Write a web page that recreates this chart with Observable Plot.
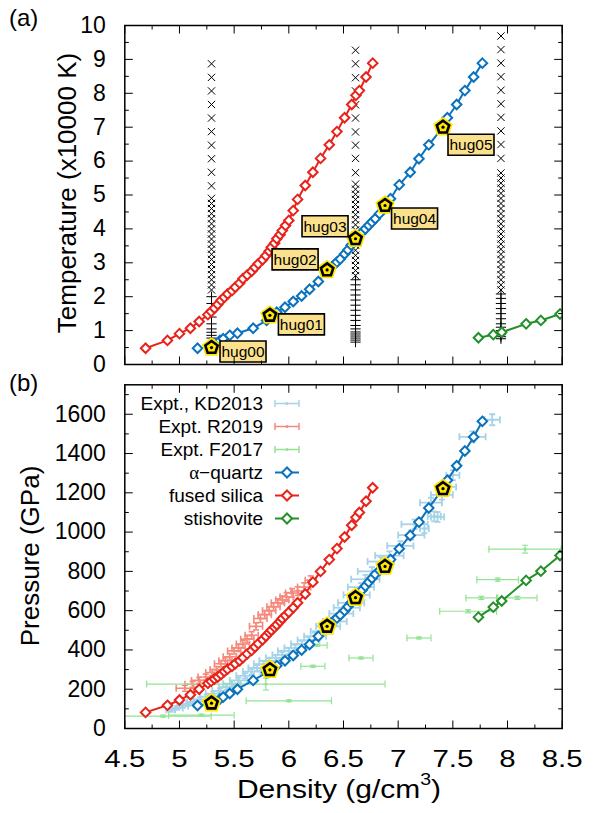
<!DOCTYPE html>
<html><head><meta charset="utf-8">
<script src="https://cdn.jsdelivr.net/npm/d3@7"></script>
<script src="https://cdn.jsdelivr.net/npm/@observablehq/plot@0.6"></script>
<style>
body{margin:0;background:#fff;}
#wrap{position:relative;width:596px;height:813px;overflow:hidden;font-family:"Liberation Sans",Arial,Helvetica,sans-serif;color:#000;}
#wrap > svg{position:absolute;left:0;}
.lab{position:absolute;white-space:nowrap;line-height:1;}
</style></head><body><div id="wrap"></div>
<script>
// ---------- axis ticks ----------
const xTicks = [4.5, 5, 5.5, 6, 6.5, 7, 7.5, 8, 8.5];
const xTickLabels = ["4.5", "5", "5.5", "6", "6.5", "7", "7.5", "8", "8.5"];
const xMinor = [4.75, 5.25, 5.75, 6.25, 6.75, 7.25, 7.75, 8.25];
const tTicks = [0, 1, 2, 3, 4, 5, 6, 7, 8, 9, 10];
const tMinor = [0.5, 1.5, 2.5, 3.5, 4.5, 5.5, 6.5, 7.5, 8.5, 9.5];
const pTicks = [0, 200, 400, 600, 800, 1000, 1200, 1400, 1600];
const pMinor = [100, 300, 500, 700, 900, 1100, 1300, 1500, 1700];

// ---------- simulations ----------
const fsDensity = [4.69, 4.89, 5.00, 5.10, 5.18, 5.26, 5.29, 5.32, 5.35, 5.38, 5.41, 5.44, 5.48, 5.51, 5.55, 5.58, 5.62, 5.66, 5.69, 5.72, 5.76, 5.79, 5.82, 5.84, 5.87, 5.89, 5.92, 5.94, 5.97, 6.00, 6.04, 6.08, 6.15, 6.22, 6.29, 6.37, 6.44, 6.51, 6.575, 6.614, 6.645, 6.706, 6.767];
const fsTemp =    [0.48, 0.71, 0.91, 1.07, 1.27, 1.47, 1.56, 1.66, 1.77, 1.89, 1.98, 2.08, 2.18, 2.28, 2.40, 2.53, 2.64, 2.75, 2.86, 2.97, 3.09, 3.21, 3.34, 3.46, 3.58, 3.71, 3.83, 3.95, 4.10, 4.25, 4.54, 4.87, 5.28, 5.67, 6.08, 6.48, 6.87, 7.28, 7.67, 7.94, 8.08, 8.48, 8.89];
const fsPressure = [82, 118, 145, 172, 200, 230, 240, 252, 262, 275, 290, 302, 316, 330, 345, 360, 380, 398, 415, 432, 452, 470, 488, 500, 515, 528, 545, 560, 575, 592, 615, 640, 685, 745, 800, 860, 916, 975, 1035, 1075, 1100, 1157, 1226];

const aqDensity = [5.165, 5.293, 5.37, 5.40, 5.46, 5.53, 5.674, 5.797, 5.827, 5.89, 5.965, 6.04, 6.117, 6.19, 6.27, 6.35, 6.38, 6.41, 6.44, 6.47, 6.51, 6.54, 6.57, 6.61, 6.64, 6.67, 6.70, 6.73, 6.76, 6.79, 6.83, 6.88, 6.93, 7.01, 7.11, 7.19, 7.28, 7.41, 7.45, 7.535, 7.61, 7.69, 7.77];
const aqTemp =    [0.48, 0.50, 0.71, 0.76, 0.86, 0.92, 1.07, 1.30, 1.45, 1.54, 1.69, 1.86, 2.02, 2.22, 2.45, 2.76, 2.85, 2.93, 3.02, 3.11, 3.26, 3.38, 3.52, 3.71, 3.80, 3.90, 4.00, 4.10, 4.20, 4.30, 4.45, 4.69, 4.89, 5.30, 5.67, 6.07, 6.48, 7.00, 7.28, 7.67, 8.08, 8.48, 8.89];
const aqPressure = [117, 129, 150, 160, 178, 200, 245, 285, 299, 320, 345, 372, 400, 428, 470, 520, 535, 548, 562, 578, 600, 620, 640, 666, 686, 705, 725, 745, 765, 785, 805, 825, 860, 915, 983, 1051, 1123, 1221, 1264, 1338, 1413, 1484, 1564];

const stDensity = [7.734, 7.87, 7.947, 8.17, 8.305, 8.48];
const stTemp =    [0.79, 0.88, 0.95, 1.20, 1.30, 1.49];
const stPressure = [567, 618, 649, 754, 801, 881];

// highlighted Hugoniot states
const hugNames = ["hug00", "hug01", "hug02", "hug03", "hug04", "hug05"];
const hugDensity = [5.293, 5.827, 6.35, 6.61, 6.88, 7.41];
const hugTemp = [0.50, 1.45, 2.79, 3.71, 4.69, 7.00];
const hugPressure = [129, 299, 520, 666, 825, 1221];

// fixed-density sampling columns (top panel)
const colDensity = [5.293, 6.61, 7.94];
const colPlusTemp = [
  [0.78, 0.86, 0.95, 1.05, 1.2, 1.4, 1.6, 1.8, 2.0],
  [0.66, 0.72, 0.78, 0.84, 0.9, 0.96, 1.05, 1.15, 1.3, 1.45, 1.6, 1.75, 1.9, 2.05, 2.2, 2.35, 2.5],
  [0.76, 0.82, 0.88, 0.94, 1.0, 1.1, 1.2, 1.35, 1.5, 1.65, 1.8, 1.95, 2.08]
];
const colCrossTemp = [
  [2.2, 2.35, 2.5, 2.65, 2.8, 2.95, 3.1, 3.25, 3.4, 3.55, 3.7, 3.85, 4.0, 4.15, 4.3, 4.45, 4.6, 4.75, 4.9, 5.27, 5.67, 6.07, 6.47, 6.87, 7.27, 7.67, 8.07, 8.47, 8.87],
  [2.62, 2.77, 2.92, 3.07, 3.22, 3.37, 3.52, 3.67, 3.82, 3.97, 4.12, 4.27, 4.42, 4.57, 4.72, 4.87, 5.02, 5.17, 5.32, 5.66, 6.08, 6.47, 6.86, 7.27, 7.66, 8.07, 8.46, 8.87, 9.27],
  [2.2, 2.35, 2.5, 2.65, 2.8, 2.95, 3.1, 3.25, 3.4, 3.55, 3.7, 3.85, 4.0, 4.15, 4.3, 4.45, 4.6, 4.75, 4.9, 5.05, 5.2, 5.35, 5.5, 5.65, 6.08, 6.49, 6.89, 7.29, 7.69, 8.09, 8.49, 8.89, 9.29, 9.69]
];

// ---------- experiments ----------
const kdDensity = [4.92, 4.98, 5.03, 5.08, 5.13, 5.19, 5.25, 5.31, 5.37, 5.43, 5.48, 5.54, 5.60, 5.66, 5.71, 5.77, 5.82, 5.88, 5.94, 6.00, 6.06, 6.12, 6.18, 6.24, 6.30, 6.36, 6.42, 6.48, 6.53, 6.57, 6.62, 6.66, 6.70, 6.76, 6.84, 6.92, 7.02, 7.12, 7.15, 7.24, 7.33, 7.36, 7.30, 7.40, 7.45, 7.50, 7.68, 7.86];
const kdPressure = [95, 105, 115, 125, 135, 148, 162, 178, 192, 210, 228, 245, 268, 290, 308, 328, 345, 360, 375, 395, 410, 430, 450, 470, 495, 520, 545, 585, 615, 640, 680, 720, 760, 800, 850, 880, 930, 985, 1040, 1018, 1080, 1077, 1150, 1190, 1230, 1290, 1485, 1572];
const kdDensityErr = [0.04, 0.05, 0.05, 0.05, 0.06, 0.06, 0.06, 0.07, 0.07, 0.07, 0.08, 0.08, 0.08, 0.08, 0.08, 0.09, 0.09, 0.09, 0.09, 0.10, 0.10, 0.10, 0.10, 0.10, 0.10, 0.11, 0.11, 0.11, 0.12, 0.12, 0.12, 0.12, 0.13, 0.13, 0.12, 0.13, 0.12, 0.12, 0.12, 0.04, 0.06, 0.06, 0.10, 0.10, 0.08, 0.06, 0.12, 0.07];
const kdPressureErr = [10, 10, 10, 10, 12, 12, 12, 12, 12, 14, 14, 14, 14, 14, 15, 15, 15, 15, 15, 16, 16, 16, 16, 18, 18, 18, 18, 20, 20, 20, 20, 20, 22, 22, 22, 22, 24, 24, 24, 24, 25, 25, 25, 25, 26, 26, 28, 28];

const rDensity = [5.05, 5.12, 5.18, 5.24, 5.30, 5.34, 5.38, 5.42, 5.46, 5.50, 5.54, 5.58, 5.62, 5.66, 5.70, 5.74, 5.78, 5.82, 5.86, 5.90, 5.94, 5.98, 6.03, 6.08, 6.14, 6.20];
const rPressure = [205, 225, 245, 262, 285, 300, 330, 345, 365, 395, 410, 430, 455, 475, 520, 560, 580, 600, 620, 640, 655, 670, 690, 700, 720, 755];
const rDensityErr = [0.08, 0.07, 0.07, 0.07, 0.06, 0.06, 0.06, 0.06, 0.06, 0.06, 0.06, 0.06, 0.06, 0.06, 0.06, 0.06, 0.06, 0.06, 0.06, 0.06, 0.06, 0.06, 0.06, 0.06, 0.06, 0.05];
const rPressureErr = [15, 15, 15, 15, 15, 15, 16, 16, 16, 16, 18, 18, 18, 18, 18, 20, 20, 20, 20, 20, 20, 22, 22, 22, 22, 22];

const fDensity = [4.85, 5.2, 5.79, 6.0, 6.22, 6.26, 6.66, 7.19, 7.64, 7.76, 8.09, 7.91, 8.16];
const fPressure = [63, 68, 226, 141, 317, 424, 359, 461, 597, 665, 665, 758, 913];
const fDensityErr = [0.44, 0.3, 1.09, 0.39, 0.11, 0.09, 0.11, 0.11, 0.26, 0.14, 0.18, 0.19, 0.33];
const fPressureErr = [5, 5, 30, 5, 5, 5, 5, 5, 8, 8, 8, 8, 20];

// ---------- legend ----------
const legendLabels = ["Expt., KD2013", "Expt. R2019", "Expt. F2017", "α−quartz", "fused silica", "stishovite"];
const legendKinds = ["err", "err", "err", "line", "line", "line"];

// ---------- styling ----------
const RED = "#e8231b", BLUE = "#0b73bd", GREEN = "#23902a";
const LBLUE = "#a6d3e7", LRED = "#f58a7c", LGREEN = "#93e393";
const legendColors = [LBLUE, LRED, LGREEN, BLUE, RED, GREEN];
const FONT = '"Liberation Sans", Arial, Helvetica, sans-serif';

const rows = (ds, ts, ps) => ds.map((d, i) => ({d, t: ts ? ts[i] : null, p: ps ? ps[i] : null}));
const fs = rows(fsDensity, fsTemp, fsPressure);
const aq = rows(aqDensity, aqTemp, aqPressure);
const st = rows(stDensity, stTemp, stPressure);
const hug = hugNames.map((n, i) => ({n, d: hugDensity[i], t: hugTemp[i], p: hugPressure[i]}));
const errRows = (ds, ps, dx, dp) => ds.map((d, i) => ({d, p: ps[i], dx: dx[i], dp: dp[i]}));
const kd = errRows(kdDensity, kdPressure, kdDensityErr, kdPressureErr);
const rr = errRows(rDensity, rPressure, rDensityErr, rPressureErr);
const ff = errRows(fDensity, fPressure, fDensityErr, fPressureErr);

const seg = (x1, y1, x2, y2) => ({draw(c) { c.moveTo(x1, y1); c.lineTo(x2, y2); }});
const pentagon = {draw(c, size) {
  const r = Math.sqrt(size / Math.PI);
  for (let k = 0; k < 5; k++) {
    const a = -Math.PI / 2 + k * 2 * Math.PI / 5;
    const x = r * Math.cos(a), y = r * Math.sin(a);
    k ? c.lineTo(x, y) : c.moveTo(x, y);
  }
  c.closePath();
}};
const labelBox = {draw(c) { c.rect(-23, -10.5, 46, 21); }};

function frameTicks(yMajor, yMinor) {
  const o = {stroke: "black", fill: "none", strokeWidth: 1};
  return [
    Plot.dot(yMajor, {...o, y: d => d, frameAnchor: "left", symbol: seg(0, 0, 8, 0)}),
    Plot.dot(yMajor, {...o, y: d => d, frameAnchor: "right", symbol: seg(0, 0, -8, 0)}),
    Plot.dot(yMinor, {...o, y: d => d, frameAnchor: "left", symbol: seg(0, 0, 4, 0)}),
    Plot.dot(yMinor, {...o, y: d => d, frameAnchor: "right", symbol: seg(0, 0, -4, 0)}),
    Plot.dot(xTicks, {...o, x: d => d, frameAnchor: "bottom", symbol: seg(0, 0, 0, -8)}),
    Plot.dot(xTicks, {...o, x: d => d, frameAnchor: "top", symbol: seg(0, 0, 0, 8)}),
    Plot.dot(xMinor, {...o, x: d => d, frameAnchor: "bottom", symbol: seg(0, 0, 0, -4)}),
    Plot.dot(xMinor, {...o, x: d => d, frameAnchor: "top", symbol: seg(0, 0, 0, 4)}),
    Plot.frame({stroke: "black", strokeWidth: 1.5})
  ];
}

function curve(data, yKey, color) {
  return [
    Plot.line(data, {x: "d", y: yKey, stroke: color, strokeWidth: 2, clip: true}),
    Plot.dot(data, {x: "d", y: yKey, symbol: "diamond2", r: 4.3, stroke: color, strokeWidth: 2, fill: "white", clip: true})
  ];
}

function hugMarks(yKey) {
  return [
    Plot.dot(hug, {x: "d", y: yKey, symbol: pentagon, r: 6.5, fill: "#ffe600", stroke: "#ffe600", strokeWidth: 6}),
    Plot.dot(hug, {x: "d", y: yKey, symbol: pentagon, r: 6.5, fill: "#ffe600", stroke: "black", strokeWidth: 2.6}),
    Plot.dot(hug, {x: "d", y: yKey, r: 1.6, fill: "black"})
  ];
}

function errorBars(data, color, w) {
  const o = {stroke: color, strokeWidth: w, fill: "none", clip: true};
  return [
    Plot.ruleY(data, {...o, y: "p", x1: r => r.d - r.dx, x2: r => r.d + r.dx}),
    Plot.ruleX(data, {...o, x: "d", y1: r => r.p - r.dp, y2: r => r.p + r.dp}),
    Plot.dot(data, {...o, x: r => r.d - r.dx, y: "p", symbol: seg(0, -3.5, 0, 3.5)}),
    Plot.dot(data, {...o, x: r => r.d + r.dx, y: "p", symbol: seg(0, -3.5, 0, 3.5)}),
    Plot.dot(data, {...o, x: "d", y: r => r.p - r.dp, symbol: seg(-3, 0, 3, 0)}),
    Plot.dot(data, {...o, x: "d", y: r => r.p + r.dp, symbol: seg(-3, 0, 3, 0)}),
    Plot.dot(data, {x: "d", y: "p", r: 1.6, fill: color, clip: true})
  ];
}

// label offsets (pixels) for the hug boxes
const labelDx = [31.5, 31.5, -32, -30.5, 29.5, 28];
const labelDy = [4, 9, -10.5, -12.5, 13, 17.6];
const hugLabels = hug.flatMap((h, i) => [
  Plot.dot([h], {x: "d", y: "t", dx: labelDx[i], dy: labelDy[i], symbol: labelBox, fill: "#fbe18c", stroke: "black", strokeWidth: 1.6}),
  Plot.text([h], {x: "d", y: "t", text: "n", dx: labelDx[i], dy: labelDy[i] + 0.5, fontSize: 15.5, fill: "black"})
]);

const colMarks = colDensity.flatMap((d, j) => [
  Plot.dot(colPlusTemp[j], {x: () => d, y: t => t, symbol: "plus", r: 3.4, stroke: "black", strokeWidth: 1}),
  Plot.dot(colCrossTemp[j], {x: () => d, y: t => t, symbol: "times", r: 3.4, stroke: "black", strokeWidth: 1})
]);

const wrap = document.getElementById("wrap");

const topPlot = Plot.plot({
  width: 596, height: 380,
  marginLeft: 124.3, marginRight: 34.3, marginTop: 25, marginBottom: 16,
  style: {fontFamily: FONT, background: "transparent", overflow: "visible"},
  x: {domain: [4.5, 8.5], axis: null},
  y: {domain: [0, 10]},
  marks: [
    Plot.axisY({ticks: tTicks, tickFormat: d => String(d), tickSize: 0, tickPadding: 19, fontSize: 23, label: null}),
    ...colMarks,
    ...curve(fs, "t", RED),
    ...curve(aq, "t", BLUE),
    ...curve(st, "t", GREEN),
    ...hugMarks("t"),
    ...hugLabels,
    ...frameTicks(tTicks, tMinor)
  ]
});
topPlot.style.top = "0px";
wrap.appendChild(topPlot);

const bottomPlot = Plot.plot({
  width: 596, height: 443,
  marginLeft: 124.3, marginRight: 34.3, marginTop: 14.3, marginBottom: 85,
  style: {fontFamily: FONT, background: "transparent", overflow: "visible"},
  x: {domain: [4.5, 8.5]},
  y: {domain: [0, 1750]},
  marks: [
    Plot.axisY({ticks: pTicks, tickFormat: d => String(d), tickSize: 0, tickPadding: 19, fontSize: 23, label: null}),
    Plot.axisX({ticks: xTicks, tickFormat: (d, i) => xTickLabels[i], tickSize: 0, tickPadding: 22, fontSize: 23, label: null}),
    ...errorBars(kd, LBLUE, 1.8),
    ...errorBars(rr, LRED, 1.6),
    ...errorBars(ff, LGREEN, 1.2),
    ...curve(fs, "p", RED),
    ...curve(aq, "p", BLUE),
    ...curve(st, "p", GREEN),
    ...hugMarks("p"),
    ...frameTicks(pTicks, pMinor)
  ]
});
bottomPlot.style.top = "370px";
wrap.appendChild(bottomPlot);

// widen the density tick labels horizontally, as in the reference typesetting
bottomPlot.querySelectorAll('g[aria-label="x-axis tick label"] text').forEach(t => {
  const tr = t.getAttribute("transform");
  if (tr && tr.includes("translate")) {
    t.setAttribute("transform", tr + " scale(1.28,1)");
  } else {
    const x = +t.getAttribute("x") || 0, y = +t.getAttribute("y") || 0;
    t.removeAttribute("x"); t.removeAttribute("y");
    t.setAttribute("transform", `translate(${x},${y}) scale(1.28,1)`);
  }
});

// ---------- legend (overlay) ----------
const leg = d3.select(wrap).append("svg").attr("width", 596).attr("height", 813)
  .style("position", "absolute").style("left", "0px").style("top", "0px");
legendLabels.forEach((lab, i) => {
  const y = 403.5 + i * 23;
  const g = leg.append("g").attr("transform", `translate(0,${y})`);
  const t = g.append("text").attr("x", 263).attr("y", 0).attr("dy", "0.35em")
    .attr("text-anchor", "end").attr("font-family", FONT).attr("font-size", 19);
  if (lab.startsWith("α")) {
    t.append("tspan").attr("font-family", '"Liberation Serif", "DejaVu Serif", serif').text("α");
    t.append("tspan").text(lab.slice(1));
  } else t.text(lab);
  const c = legendColors[i];
  if (legendKinds[i] === "err") {
    g.append("line").attr("x1", 275).attr("x2", 299).attr("y1", 0).attr("y2", 0).attr("stroke", c).attr("stroke-width", 1.5);
    g.append("line").attr("x1", 275).attr("x2", 275).attr("y1", -3.5).attr("y2", 3.5).attr("stroke", c).attr("stroke-width", 1.5);
    g.append("line").attr("x1", 299).attr("x2", 299).attr("y1", -3.5).attr("y2", 3.5).attr("stroke", c).attr("stroke-width", 1.5);
    g.append("circle").attr("cx", 287).attr("cy", 0).attr("r", 1.5).attr("fill", c);
  } else {
    g.append("line").attr("x1", 275).attr("x2", 299).attr("y1", 0).attr("y2", 0).attr("stroke", c).attr("stroke-width", 2);
    g.append("path").attr("d", "M287,-5L292,0L287,5L282,0Z").attr("fill", "white").attr("stroke", c).attr("stroke-width", 2);
  }
});

// ---------- titles ----------
function addLabel(text, css, html) {
  const d = document.createElement("div");
  d.className = "lab";
  if (html) d.innerHTML = text; else d.textContent = text;
  Object.assign(d.style, css);
  wrap.appendChild(d);
}
addLabel("(a)", {left: "9px", top: "6px", fontSize: "24px"});
addLabel("(b)", {left: "9px", top: "371px", fontSize: "24px"});
addLabel("Temperature (x10000 K)", {left: "67px", top: "193px", fontSize: "26px", transform: "translate(-50%,-50%) rotate(-90deg)"});
addLabel("Pressure (GPa)", {left: "30px", top: "556px", fontSize: "26px", transform: "translate(-50%,-50%) rotate(-90deg)"});
addLabel("Density (g/cm<sup style='font-size:0.65em;vertical-align:0.75em;line-height:0'>3</sup>)", {left: "339px", top: "789px", fontSize: "25px", transform: "translate(-50%,-50%) scaleX(1.2)"}, true);
</script>
</body></html>
